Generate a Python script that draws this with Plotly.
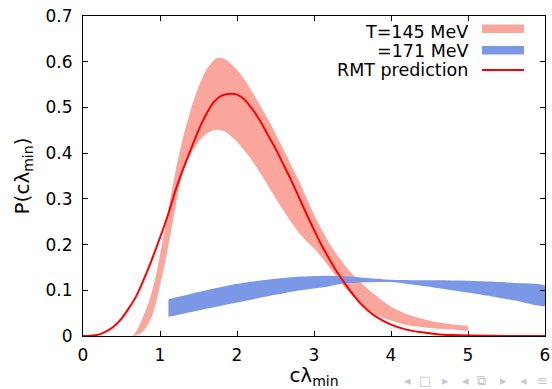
import plotly.graph_objects as go

# ---- data ----
# RMT prediction curve
rmt_x = [0.0, 0.1, 0.2, 0.3, 0.4, 0.5, 0.6, 0.7, 0.8, 0.9, 1.0, 1.1, 1.2, 1.3, 1.4, 1.5,
         1.6, 1.7, 1.8, 1.93, 2.0, 2.1, 2.2, 2.3, 2.4, 2.5, 2.6, 2.7, 2.8, 2.9, 3.0, 3.1,
         3.2, 3.3, 3.4, 3.5, 3.6, 3.7, 3.8, 4.0, 4.2, 4.4, 4.6, 4.8, 5.0, 5.5, 6.0]
rmt_y = [0.0, 0.0005, 0.003, 0.01, 0.021, 0.038, 0.062, 0.09, 0.128, 0.17, 0.215, 0.263,
         0.318, 0.365, 0.408, 0.45, 0.485, 0.512, 0.526, 0.530, 0.528, 0.517, 0.496, 0.471,
         0.44, 0.41, 0.376, 0.342, 0.305, 0.268, 0.232, 0.198, 0.168, 0.14, 0.115, 0.092,
         0.072, 0.056, 0.043, 0.025, 0.014, 0.008, 0.004, 0.002, 0.001, 0.0002, 0.0]

# T = 145 MeV band
t145_x = [0.65, 0.70, 0.75, 0.80, 0.85, 0.90, 0.95, 1.00, 1.05, 1.10, 1.15, 1.20, 1.25,
          1.30, 1.40, 1.50, 1.60, 1.70, 1.76, 1.85, 2.00, 2.10, 2.20, 2.30, 2.40, 2.50,
          2.60, 2.70, 2.80, 2.90, 3.00, 3.10, 3.20, 3.30, 3.40, 3.50, 3.60, 3.70, 3.80,
          3.90, 4.00, 4.20, 4.40, 4.60, 4.80, 5.00]
t145_hi = [0.0, 0.012, 0.03, 0.05, 0.072, 0.10, 0.135, 0.178, 0.222, 0.268, 0.315, 0.36,
           0.398, 0.435, 0.495, 0.545, 0.582, 0.603, 0.609, 0.605, 0.583, 0.56, 0.533, 0.505,
           0.475, 0.443, 0.409, 0.375, 0.341, 0.303, 0.266, 0.233, 0.203, 0.177, 0.155,
           0.135, 0.118, 0.103, 0.089, 0.076, 0.064, 0.048, 0.038, 0.030, 0.025, 0.021]
t145_lo = [0.0, 0.002, 0.006, 0.014, 0.027, 0.045, 0.074, 0.11, 0.148, 0.19, 0.235, 0.282,
           0.328, 0.362, 0.398, 0.425, 0.442, 0.45, 0.451, 0.447, 0.425, 0.405, 0.383,
           0.357, 0.33, 0.302, 0.275, 0.25, 0.227, 0.208, 0.192, 0.172, 0.150, 0.127,
           0.106, 0.088, 0.072, 0.058, 0.047, 0.040, 0.034, 0.024, 0.019, 0.016, 0.014, 0.012]

# T = 171 MeV band
t171_x = [1.11, 1.5, 1.87, 2.2, 2.5, 2.82, 3.17, 3.34, 3.6, 4.0, 4.3, 4.64, 5.0, 5.29, 5.6, 6.0]
t171_hi = [0.080, 0.096, 0.110, 0.119, 0.125, 0.130, 0.132, 0.131, 0.128, 0.123, 0.122,
           0.122, 0.121, 0.119, 0.116, 0.110]
t171_lo = [0.042, 0.056, 0.069, 0.080, 0.090, 0.100, 0.108, 0.114, 0.117, 0.118, 0.112,
           0.104, 0.095, 0.087, 0.078, 0.066]

x_ticks = [0, 1, 2, 3, 4, 5, 6]
y_ticks = [0, 0.1, 0.2, 0.3, 0.4, 0.5, 0.6, 0.7]
y_tick_text = ["0", "0.1", "0.2", "0.3", "0.4", "0.5", "0.6", "0.7"]

legend_labels = ["T=145 MeV", "=171 MeV", "RMT prediction"]
nav_symbols = ["◂", "□", "▸", "◂", "⧉", "▸", "◂", "≡"]
nav_px = [407, 425, 445, 465, 481, 503, 523, 542]

PINK = "rgb(250,166,156)"
BLUE = "rgb(122,152,230)"
RED = "rgb(255,0,0)"
FONT = "DejaVu Sans"

fig = go.Figure()
fig.add_trace(go.Scatter(x=t145_x + t145_x[::-1], y=t145_hi + t145_lo[::-1],
                         fill="toself", fillcolor=PINK, line=dict(width=0, shape="spline", smoothing=0.6),
                         mode="lines", name=legend_labels[0], hoverinfo="skip"))
fig.add_trace(go.Scatter(x=t171_x + t171_x[::-1], y=t171_hi + t171_lo[::-1],
                         fill="toself", fillcolor=BLUE, line=dict(width=0, shape="spline", smoothing=0.5),
                         mode="lines", name=legend_labels[1], hoverinfo="skip"))
fig.add_trace(go.Scatter(x=rmt_x, y=rmt_y, mode="lines",
                         line=dict(color=RED, width=2, shape="spline", smoothing=0.8),
                         name=legend_labels[2]))

axis_common = dict(showline=True, linecolor="black", linewidth=1, mirror="allticks",
                   ticks="inside", ticklen=5, tickcolor="black", tickwidth=1,
                   showgrid=False, zeroline=False, automargin=False,
                   tickfont=dict(family=FONT, size=17, color="black"))

fig.update_xaxes(range=[0, 6], tickvals=x_ticks, ticktext=[str(v) for v in x_ticks],
                 ticklabelstandoff=4,
                 title=dict(text="cλ<sub>min</sub>", font=dict(family=FONT, size=20, color="black"),
                            standoff=6),
                 **axis_common)
fig.update_yaxes(range=[0, 0.7], tickvals=y_ticks, ticktext=y_tick_text,
                 ticklabelstandoff=6,
                 title=dict(text="P(cλ<sub>min</sub>)", font=dict(family=FONT, size=20, color="black"),
                            standoff=10),
                 **axis_common)

# gnuplot-style legend: text right-aligned, key sample to the right
rows_y = [0.95, 0.8906, 0.831]
for lbl, yy in zip(legend_labels, rows_y):
    fig.add_annotation(x=0.8377, y=yy, xref="paper", yref="paper", text=lbl,
                       showarrow=False, xanchor="right", yanchor="middle",
                       font=dict(family=FONT, size=17.5, color="black"))
fig.add_shape(type="rect", xref="paper", yref="paper", x0=0.8636, x1=0.9545, y0=0.9469, y1=0.9734,
              fillcolor=PINK, line=dict(width=0))
fig.add_shape(type="rect", xref="paper", yref="paper", x0=0.8636, x1=0.9545, y0=0.8797, y1=0.906,
              fillcolor=BLUE, line=dict(width=0))
fig.add_shape(type="line", xref="paper", yref="paper", x0=0.8636, x1=0.9545, y0=0.831, y1=0.831,
              line=dict(color=RED, width=2))

# beamer navigation symbols
for sym, px in zip(nav_symbols, nav_px):
    fig.add_annotation(x=(px - 83) / 462, y=-0.1406, xref="paper", yref="paper",
                       text=sym, showarrow=False, xanchor="center", yanchor="middle",
                       font=dict(family=FONT, size=13, color="rgb(200,200,205)"))

fig.update_layout(width=552, height=389, margin=dict(l=83, r=7, t=16, b=53),
                  paper_bgcolor="white", plot_bgcolor="white", showlegend=False)

fig.write_html("out.html")
